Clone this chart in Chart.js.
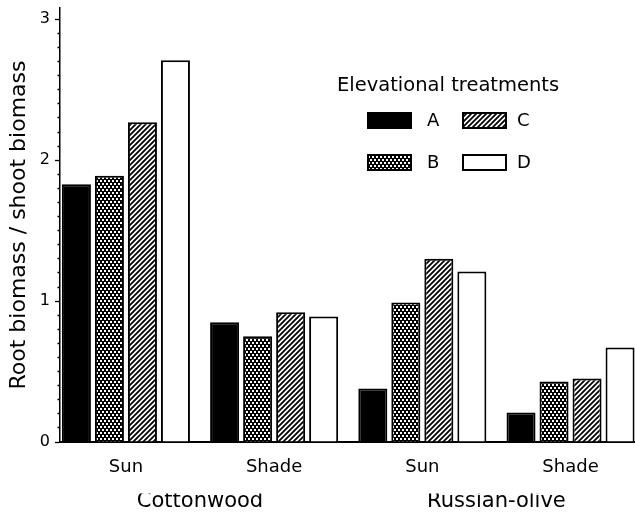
<!DOCTYPE html>
<html>
<head>
<meta charset="utf-8">
<script src="https://cdn.jsdelivr.net/npm/chart.js@4.4.1/dist/chart.umd.min.js"></script>
<style>
  html, body { margin: 0; padding: 0; background: #fff; overflow: hidden; }
</style>
</head>
<body>
<canvas id="myChart" width="635" height="515"></canvas>
<script>
// Data
const categories = ['Sun', 'Shade', 'Sun', 'Shade'];
const species = ['Cottonwood', 'Russian-olive'];
const treatments = ['A', 'B', 'C', 'D'];
const valuesA = [1.83, 0.85, 0.38, 0.21];
const valuesB = [1.89, 0.75, 0.99, 0.43];
const valuesC = [2.27, 0.92, 1.30, 0.45];
const valuesD = [2.71, 0.89, 1.21, 0.67];
const yTicks = [0, 1, 2, 3];

const FONT = "'DejaVu Sans', sans-serif";
Chart.defaults.font.family = FONT;
Chart.defaults.color = '#000';

// x range so that the y axis sits left of the first group like in the figure
const X_MIN = -0.445;
const X_MAX = 3.435;

// black with white dots
function makeDotPattern() {
    const c = document.createElement('canvas');
    c.width = 4; c.height = 6;
    const g = c.getContext('2d');
    g.fillStyle = '#000';
    g.fillRect(0, 0, 4, 6);
    g.fillStyle = '#fff';
    g.fillRect(0, 0, 2, 2);
    g.fillRect(2, 3, 2, 2);
    return g.createPattern(c, 'repeat');
}

// diagonal hatch "////"
function makeHatchPattern() {
    const s = 5;
    const c = document.createElement('canvas');
    c.width = s; c.height = s;
    const g = c.getContext('2d');
    g.fillStyle = '#fff';
    g.fillRect(0, 0, s, s);
    g.strokeStyle = '#000';
    g.lineWidth = 1.8;
    g.beginPath();
    g.moveTo(0, s); g.lineTo(s, 0);
    g.moveTo(-1, 1); g.lineTo(1, -1);
    g.moveTo(s - 1, s + 1); g.lineTo(s + 1, s - 1);
    g.stroke();
    return g.createPattern(c, 'repeat');
}

const fills = ['#000', makeDotPattern(), makeHatchPattern(), '#fff'];
const series = [valuesA, valuesB, valuesC, valuesD];

const datasets = treatments.map((t, k) => ({
    label: t,
    data: series[k].map((v, i) => ({ x: i, y: v })),
    backgroundColor: fills[k],
    borderColor: '#000',
    borderWidth: 2,
    categoryPercentage: 0.891,
    barPercentage: 0.879
}));

// legend drawn in two columns: A C / B D
const treatmentLegend = {
    id: 'treatmentLegend',
    afterDraw(chart, args, opts) {
        const ctx = chart.ctx;
        ctx.save();
        ctx.fillStyle = '#000';
        ctx.textAlign = 'left';
        ctx.textBaseline = 'alphabetic';
        ctx.font = '19.5px ' + FONT;
        ctx.fillText(opts.title, opts.titleX, opts.titleY);
        chart.data.datasets.forEach((ds, k) => {
            const col = Math.floor(k / 2);
            const row = k % 2;
            const bx = opts.boxX[col];
            const by = opts.boxY[row];
            ctx.fillStyle = ds.backgroundColor;
            ctx.fillRect(bx, by, opts.boxW, opts.boxH);
            ctx.strokeStyle = '#000';
            ctx.lineWidth = 2;
            ctx.strokeRect(bx + 1, by + 1, opts.boxW - 2, opts.boxH - 2);
            ctx.fillStyle = '#000';
            ctx.font = '18px ' + FONT;
            ctx.textBaseline = 'middle';
            ctx.fillText(ds.label, opts.labelX[col], by + 9);
        });
        ctx.restore();
    }
};

const isMajor = v => yTicks.includes(Math.round(v * 10) / 10);

new Chart(document.getElementById('myChart').getContext('2d'), {
    type: 'bar',
    data: { datasets: datasets },
    options: {
        responsive: false,
        animation: false,
        layout: { padding: { top: 8, right: 0, bottom: 5.4, left: 0 } },
        plugins: {
            legend: { display: false },
            tooltip: { enabled: false },
            treatmentLegend: {
                title: 'Elevational treatments',
                titleX: 337, titleY: 91,
                boxX: [367, 462], boxY: [112, 154],
                boxW: 45, boxH: 17,
                labelX: [427, 517]
            }
        },
        scales: {
            x: {
                type: 'linear',
                position: 'bottom',
                weight: 0,
                offset: false,
                min: X_MIN,
                max: X_MAX,
                afterBuildTicks: axis => { axis.ticks = categories.map((c, i) => ({ value: i })); },
                ticks: {
                    callback: (v, i) => categories[i],
                    autoSkip: false,
                    maxRotation: 0,
                    padding: 15,
                    font: { size: 18 }
                },
                grid: { display: false, drawTicks: false, offset: false },
                border: { display: true, color: '#000', width: 2 }
            },
            x2: {
                type: 'linear',
                position: 'bottom',
                weight: 1,
                offset: false,
                min: X_MIN,
                max: X_MAX,
                afterBuildTicks: axis => { axis.ticks = [{ value: 0.5 }, { value: 2.5 }]; },
                ticks: {
                    callback: (v, i) => species[i],
                    autoSkip: false,
                    maxRotation: 0,
                    padding: 0,
                    font: { size: 21, lineHeight: '16px' }
                },
                grid: { display: false, drawTicks: false, offset: false },
                border: { display: false }
            },
            y: {
                min: 0,
                max: 3.08,
                afterBuildTicks: axis => {
                    const t = [];
                    for (let k = 0; k <= 30; k++) t.push({ value: k / 10 });
                    axis.ticks = t;
                },
                ticks: {
                    callback: v => isMajor(v) ? String(Math.round(v)) : '',
                    autoSkip: false,
                    padding: 5,
                    font: { size: 16, lineHeight: '4px' }
                },
                grid: {
                    drawOnChartArea: false,
                    tickLength: 5,
                    tickColor: '#000',
                    tickWidth: 1.3,
                    tickBorderDash: c => (c.tick && isMajor(c.tick.value)) ? [] : [0, 2.5, 2.5, 0]
                },
                border: { color: '#000', width: 1.5 },
                title: {
                    display: true,
                    text: 'Root biomass / shoot biomass',
                    font: { size: 22 },
                    padding: { top: 6, bottom: 2.4 }
                }
            }
        }
    },
    plugins: [treatmentLegend]
});
</script>
</body>
</html>
